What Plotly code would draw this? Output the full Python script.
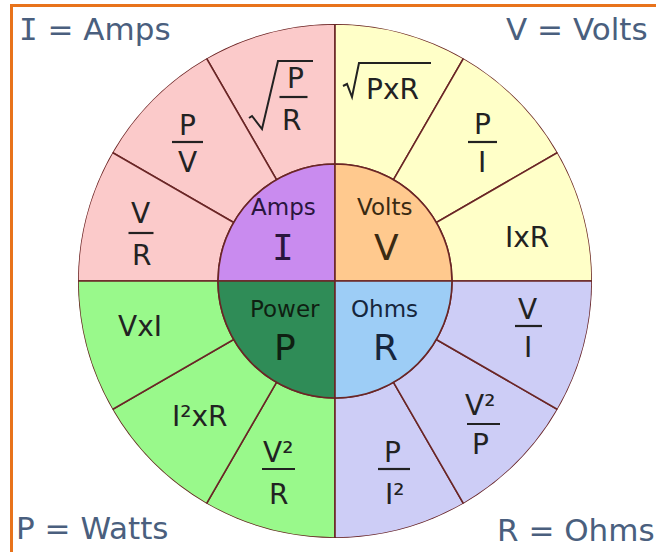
import plotly.graph_objects as go

# ---------------- data ----------------
quadrant_symbols = ["I", "V", "P", "R"]
quadrant_names = ["Amps", "Volts", "Power", "Ohms"]
quadrant_units = ["Amps", "Volts", "Watts", "Ohms"]
quadrant_theta = [135, 45, 225, 315]
quadrant_span = [90, 90, 90, 90]

segment_quadrant = ["I", "I", "I", "V", "V", "V", "P", "P", "P", "R", "R", "R"]
segment_theta = [105, 135, 165, 75, 45, 15, 255, 225, 195, 285, 315, 345]
segment_span = [30] * 12
# formula: (numerator, denominator) for fractions, or single text
segment_formula = [("P", "R", "sqrt"), ("P", "V"), ("V", "R"),
                   ("PxR", None, "sqrt"), ("P", "I"), ("IxR", None),
                   ("V²", "R"), ("I²xR", None), ("VxI", None),
                   ("P", "I²"), ("V²", "P"), ("V", "I")]

# ---------------- layout / style ----------------
W, H = 656, 552
CX, CY = 335, 281
R_OUT, R_IN = 257, 117
FONT = "DejaVu Sans"
MONO = "DejaVu Sans Mono"
LINE = "#6a2626"
TXT = "#222222"
CORNER = "#4a5f7e"

inner_colors = {"I": "#c98bef", "V": "#ffc98e", "P": "#2f8c57", "R": "#9dcdf6"}
outer_colors = {"I": "#fbcaca", "V": "#ffffc8", "P": "#99f98b", "R": "#cdcdf6"}
inner_text_colors = {"I": "#2a163d", "V": "#3a2a12", "P": "#0f1f12", "R": "#16263d"}

# label positions in pixels (layout only)
single_pos = {"PxR": (392, 87.5), "IxR": (527, 235), "I²xR": (200, 414), "VxI": (140, 324)}
frac_pos = {  # key -> (x_num, y_num, x_bar, y_bar, halfwidth, x_den, y_den)
    0: (295, 76.5, 293.5, 97, 14, 291, 118),
    1: (187.5, 123, 187.5, 142, 15.5, 187.5, 160),
    2: (140.5, 211.5, 141, 233, 12.5, 141, 253),
    4: (482, 122.5, 482.5, 142, 14.5, 482, 160),
    6: (277.5, 450.5, 278.5, 469, 16.5, 278, 492),
    9: (392, 450.5, 394, 469, 16, 394, 492),
    10: (480, 403.5, 483.5, 424, 16.5, 480, 442.5),
    11: (527.5, 307.5, 528.5, 326, 13.5, 527.5, 345),
}
radicals = {
    0: [(249, 118), (252, 116), (262, 129), (278, 61), (313, 61)],
    3: [(343, 86), (347, 84), (352, 97), (359, 63), (431, 63)],
}
inner_pos = {"I": (283.5, 205.5, 283, 245), "V": (384.5, 205, 386.5, 244.5),
             "P": (285, 307, 285, 344.5), "R": (384, 307, 385, 344.5)}
corner_pos = {"I": (17, 27, "left"), "V": (650, 26.5, "right"),
              "P": (14, 525.5, "left"), "R": (495, 527.5, "left")}

OUT_SIZE = 28
DY = 0.08  # cap-centre to box-middle correction (fraction of font size)


def px(x):
    return x / W


def py(y):
    return 1 - y / H


def ann(x, y, text, size, color, xanchor="center", family=FONT):
    return dict(x=px(x), y=py(y + DY * size), xref="paper", yref="paper", text=text,
                showarrow=False, font=dict(size=size, color=color, family=family),
                xanchor=xanchor, yanchor="middle")


fig = go.Figure()

fig.add_trace(go.Barpolar(
    r=[R_OUT - R_IN] * len(segment_theta), base=[R_IN] * len(segment_theta),
    theta=segment_theta, width=segment_span,
    marker=dict(color=[outer_colors[q] for q in segment_quadrant],
                line=dict(color=LINE, width=1.6)),
    hoverinfo="skip", showlegend=False))

fig.add_trace(go.Barpolar(
    r=[R_IN] * len(quadrant_theta), base=[0] * len(quadrant_theta),
    theta=quadrant_theta, width=quadrant_span,
    marker=dict(color=[inner_colors[q] for q in quadrant_symbols],
                line=dict(color=LINE, width=1.6)),
    hoverinfo="skip", showlegend=False))

annotations = []
shapes = []

# outer formulas
for i, f in enumerate(segment_formula):
    if f[1] is None:
        x, y = single_pos[f[0]]
        annotations.append(ann(x, y, f[0], OUT_SIZE, TXT))
    else:
        xn, yn, xb, yb, hw, xd, yd = frac_pos[i]
        annotations.append(ann(xn, yn, f[0], OUT_SIZE, TXT))
        annotations.append(ann(xd, yd, f[1], OUT_SIZE, TXT))
        shapes.append(dict(type="line", xref="paper", yref="paper",
                           x0=px(xb - hw), x1=px(xb + hw), y0=py(yb), y1=py(yb),
                           line=dict(color=TXT, width=2.2), layer="above"))
    if len(f) > 2 and f[2] == "sqrt":
        pts = radicals[i]
        path = "M " + " L ".join(f"{px(a):.5f},{py(b):.5f}" for a, b in pts)
        shapes.append(dict(type="path", xref="paper", yref="paper", path=path,
                           line=dict(color=TXT, width=2), layer="above"))

# inner labels
for s, n in zip(quadrant_symbols, quadrant_names):
    xn, yn, xs, ys = inner_pos[s]
    c = inner_text_colors[s]
    annotations.append(ann(xn, yn, n, 23, c))
    annotations.append(ann(xs, ys, s, 36, c, family=MONO if s == "I" else FONT))

# corner legends
for s, u in zip(quadrant_symbols, quadrant_units):
    x, y, anchor = corner_pos[s]
    sym = f'<span style="font-family:{MONO}">{s}</span>' if s == "I" else s
    annotations.append(ann(x, y, f"{sym} = {u}", 31, CORNER, xanchor=anchor))

# orange frame
BORDER = "#e8731b"
shapes.append(dict(type="line", xref="paper", yref="paper", x0=px(10), x1=1.02,
                   y0=py(5.5), y1=py(5.5), line=dict(color=BORDER, width=3), layer="above"))
shapes.append(dict(type="line", xref="paper", yref="paper", x0=px(11.5), x1=px(11.5),
                   y0=py(4), y1=-0.02, line=dict(color=BORDER, width=3), layer="above"))

fig.update_layout(
    width=W, height=H, margin=dict(l=0, r=0, t=0, b=0),
    paper_bgcolor="white", plot_bgcolor="white",
    showlegend=False,
    polar=dict(
        domain=dict(x=[px(CX - R_OUT), px(CX + R_OUT)], y=[py(CY + R_OUT), py(CY - R_OUT)]),
        bgcolor="rgba(0,0,0,0)", bargap=0,
        radialaxis=dict(visible=False, range=[0, R_OUT]),
        angularaxis=dict(visible=False, rotation=0, direction="counterclockwise"),
    ),
    annotations=annotations, shapes=shapes,
)

fig.write_html("out.html", config={"displayModeBar": False},
               post_script="document.body.style.margin='0';document.body.style.overflow='hidden';")
